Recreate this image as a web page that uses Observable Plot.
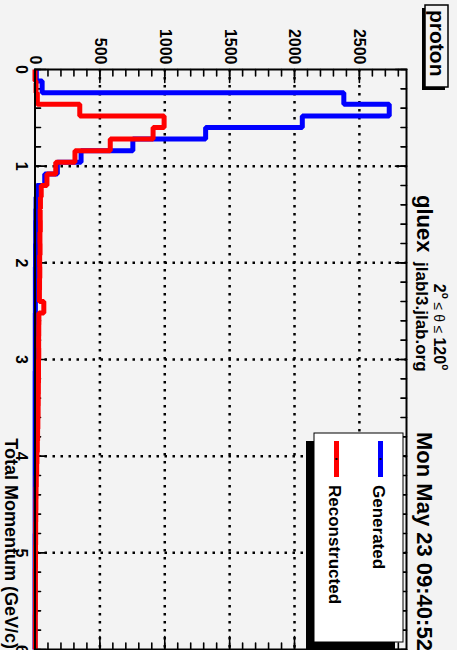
<!DOCTYPE html>
<html><head><meta charset="utf-8">
<script src="https://cdn.jsdelivr.net/npm/d3@7"></script>
<script src="https://cdn.jsdelivr.net/npm/@observablehq/plot@0.6"></script>
<style>
html,body{margin:0;padding:0;background:#f3f3f3;overflow:hidden}
#page{position:relative;width:457px;height:650px;overflow:hidden;background:#f3f3f3}
#rot{position:absolute;left:0;top:0;width:650px;height:457px;transform-origin:0 0;transform:translate(457px,0) rotate(90deg)}
svg{display:block}
</style></head><body><div id="page"><div id="rot"></div></div>
<script>
// Bin lower edges (GeV/c), bin width 0.12
const binLow = [0,0.12,0.24,0.36,0.48,0.6,0.72,0.84,0.96,1.08,1.2,1.32,1.44,1.56,1.68,1.8,1.92,2.04,2.16,2.28,2.4,2.52,2.64,2.76,2.88,3,3.12,3.24,3.36,3.48,3.6,3.72,3.84,3.96,4.08,4.2,4.32,4.44,4.56,4.68,4.8,4.92,5.04,5.16,5.28,5.4,5.52,5.64,5.76,5.88];
const binHigh = 6;
const generated = [10,55,2380,2730,2060,1315,754,355,172,75,14,8,6,5,5,4,4,3,3,3,3,2,2,2,2,2,1,1,1,1,1,1,1,1,1,1,1,1,1,1,0,0,0,0,0,0,0,0,0,0];
const reconstructed = [0,8,18,345,995,910,580,308,160,92,48,42,40,41,38,39,36,37,35,34,68,30,29,28,29,27,27,26,25,24,22,20,18,15,13,10,8,7,6,5,5,4,4,3,3,3,3,2,2,2];
const xMajorTicks = [0,1,2,3,4,5,6];
const yMajorTicks = [0,500,1000,1500,2000,2500];
const xGridTicks = [1,2,3,4,5];
const yGridTicks = [500,1000,1500,2000,2500];
const yMax = 2863;
const seriesNames = ["Generated","Reconstructed"];
const seriesColors = ["#0000ff","#ff0000"];

const xMinorTicks = d3.range(0, 6.001, 0.2);
const yMinorTicks = d3.range(0, 2801, 100);

function steps(values){
  const pts = binLow.map((x,i)=>({x, y: values[i]}));
  pts.push({x: binHigh, y: values[values.length-1]});
  return pts;
}
const tickShape = {draw(ctx, l){ ctx.moveTo(0,0); ctx.lineTo(0,-l); }};
function tickMarks(data, channel, frameAnchor, rotate, length){
  return Plot.vector(data, {[channel]: d=>d, frameAnchor, rotate, length, anchor:"start", shape: tickShape, stroke:"black", strokeWidth:1.6});
}
const FONT = "'Liberation Sans', Arial, Helvetica, sans-serif";
const grid = {stroke:"black", strokeOpacity:1, strokeWidth:2.5, strokeDasharray:"2.5,5.5"};
const lineOpts = (c)=>({x:"x", y:"y", curve:"step-after", stroke:c, strokeWidth:5, strokeLinejoin:"miter", strokeLinecap:"butt"});

const plot = Plot.plot({
  width: 650, height: 457,
  marginLeft: 69, marginRight: 1, marginTop: 50, marginBottom: 35.5,
  style: {background:"transparent", color:"black", fontFamily: FONT},
  x: {domain:[0,6]},
  y: {domain:[0,yMax]},
  marks: [
    Plot.gridX(xGridTicks, grid),
    Plot.gridY(yGridTicks, grid),
    tickMarks(xMinorTicks, "x", "bottom", 0, 5.5),
    tickMarks(xMajorTicks, "x", "bottom", 0, 11),
    tickMarks(xMinorTicks, "x", "top", 180, 5.5),
    tickMarks(xMajorTicks, "x", "top", 180, 11),
    tickMarks(yMinorTicks, "y", "left", 90, 6.5),
    tickMarks(yMajorTicks, "y", "left", 90, 13),
    tickMarks(yMinorTicks, "y", "right", -90, 6.5),
    tickMarks(yMajorTicks, "y", "right", -90, 13),
    Plot.line(steps(generated), lineOpts(seriesColors[0])),
    Plot.line(steps(reconstructed), lineOpts(seriesColors[1])),
    Plot.frame({stroke:"black", strokeWidth:2}),
    Plot.axisX(xMajorTicks, {tickSize:0, tickPadding:7.5, fontSize:16, fontWeight:"bold", label:null, tickFormat:d=>`${d}`}),
    Plot.axisY(yMajorTicks, {tickSize:0, tickPadding:5, fontSize:16, fontWeight:"bold", label:null, tickFormat:d=>`${d}`})
  ]
});
document.getElementById("rot").appendChild(plot);

const svg = d3.select(plot);
function txt(x, y, s, size, weight="bold", anchor="start"){
  return svg.append("text").attr("x",x).attr("y",y).attr("text-anchor",anchor)
    .attr("font-family",FONT).attr("font-size",size).attr("font-weight",weight).attr("fill","black").text(s);
}
// proton box
svg.append("rect").attr("x",8).attr("y",12).attr("width",82).attr("height",23).attr("fill","black");
svg.append("rect").attr("x",5).attr("y",9).attr("width",82).attr("height",23).attr("fill","#f3f3f3").attr("stroke","black").attr("stroke-width",1.5);
txt(10, 27, "proton", 21);
// header texts
txt(195, 40, "gluex", 22);
txt(262, 41, "jlabl3.jlab.org", 17);
const th = svg.append("text").attr("x",327).attr("y",23).attr("font-family",FONT).attr("fill","black");
th.append("tspan").attr("font-size",16).attr("font-weight","bold").text("2");
th.append("tspan").attr("font-size",10).attr("font-weight","bold").attr("dy",-8).text("o");
th.append("tspan").attr("font-size",14).attr("dy",8).text(" \u2264 \u03b8 \u2264 ");
th.append("tspan").attr("font-size",16).attr("font-weight","bold").text("120");
th.append("tspan").attr("font-size",10).attr("font-weight","bold").attr("dy",-8).text("o");
txt(432, 40, "Mon May 23 09:40:52", 22);
// legend
svg.append("rect").attr("x",441).attr("y",62).attr("width",209).attr("height",89).attr("fill","black");
svg.append("rect").attr("x",433).attr("y",54).attr("width",209).attr("height",89).attr("fill","white").attr("stroke","black").attr("stroke-width",1);
const legY = [76.5, 120.5];
seriesNames.forEach((name,i)=>{
  svg.append("line").attr("x1",441).attr("x2",477).attr("y1",legY[i]).attr("y2",legY[i]).attr("stroke",seriesColors[i]).attr("stroke-width",5);
  svg.append("rect").attr("x",458).attr("y",legY[i]-1).attr("width",2).attr("height",2).attr("fill","black");
  txt(485, legY[i]+7.5, name, 17);
});
// x title
txt(649, 452, "Total Momentum (GeV/c)", 18, "bold", "end");
</script></body></html>
